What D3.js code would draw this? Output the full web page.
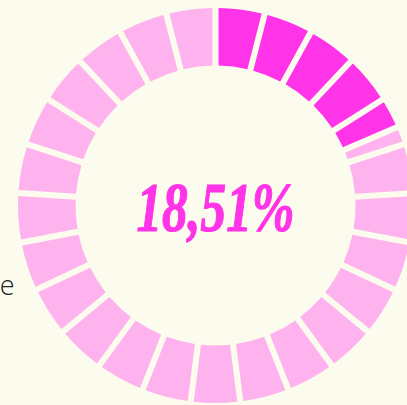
<!DOCTYPE html>
<html>
<head>
<meta charset="utf-8">
<script src="https://cdn.jsdelivr.net/npm/d3@7"></script>
<style>
  html, body { margin: 0; padding: 0; background: #fbfbee; }
  svg { display: block; }
</style>
</head>
<body>
<svg id="chart" width="407" height="405"></svg>
<script>
// ring gauge data
const values = [18.51];            // percent filled
const labels = ["18,51%"];
const segmentCount = [25];          // bricks around the ring
const sideLabel = ["e"];            // clipped legend text at left

const width = 407, height = 405;
const cx = 215.5, cy = 205.5;
const outerR = 197.5, innerR = 140;

const svg = d3.select('#chart');
const g = svg.append('g').attr('transform', `translate(${cx},${cy})`);

const angle = d3.scaleLinear().domain([0, 100]).range([0, 2 * Math.PI]);
const seg = d3.scaleLinear().domain([0, segmentCount[0]]).range([0, 2 * Math.PI]);

const arc = d3.arc()
  .innerRadius(innerR)
  .outerRadius(outerR)
  .padAngle(0.025)
  .padRadius(Math.sqrt(innerR * innerR + outerR * outerR));

// split every segment at the value angle
const cut = angle(values[0]);
const pieces = [];
d3.range(segmentCount[0]).forEach(i => {
  const a0 = seg(i), a1 = seg(i + 1);
  if (a1 <= cut) pieces.push({ startAngle: a0, endAngle: a1, on: true });
  else if (a0 >= cut) pieces.push({ startAngle: a0, endAngle: a1, on: false });
  else {
    pieces.push({ startAngle: a0, endAngle: cut, on: true });
    pieces.push({ startAngle: cut, endAngle: a1, on: false });
  }
});

g.selectAll('path.seg')
  .data(pieces)
  .join('path')
  .attr('class', 'seg')
  .attr('d', arc)
  .attr('fill', d => d.on ? '#ff33e8' : '#ffb3ee');

g.append('text')
  .attr('x', 0)
  .attr('y', 25)
  .attr('text-anchor', 'middle')
  .attr('font-family', '"Liberation Serif", serif')
  .attr('font-style', 'italic')
  .attr('font-weight', 'bold')
  .attr('font-size', 70)
  .attr('textLength', 158)
  .attr('lengthAdjust', 'spacingAndGlyphs')
  .attr('fill', '#ff33e8')
  .attr('stroke', '#ff33e8')
  .attr('stroke-width', 1.2)
  .text(labels[0]);

svg.append('text')
  .attr('x', 14.5)
  .attr('y', 295)
  .attr('text-anchor', 'end')
  .attr('font-family', '"Open Sans", sans-serif')
  .attr('font-weight', 300)
  .attr('font-size', 27)
  .attr('fill', '#222')
  .text(sideLabel[0]);
</script>
</body>
</html>
